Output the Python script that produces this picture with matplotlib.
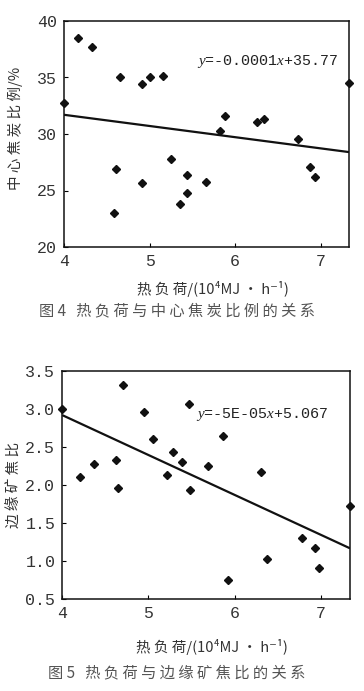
import matplotlib
matplotlib.use("Agg")
import matplotlib.pyplot as plt

plt.rcParams['font.family'] = ['Liberation Mono', 'DejaVu Sans Mono']
plt.rcParams['mathtext.fontset'] = 'custom'
plt.rcParams['mathtext.rm'] = 'Liberation Serif'
plt.rcParams['mathtext.it'] = 'Liberation Serif:italic'

CJK = ['Noto Sans CJK SC', 'DejaVu Sans']

# ---- Figure 4 data ----
heat_load_4 = [4.00, 4.16, 4.33, 4.66, 4.91, 5.01, 5.16, 7.33, 5.82, 5.88, 6.25, 6.34,
               6.73, 6.87, 6.93, 4.61, 5.25, 5.44, 4.91, 5.66, 5.44, 5.35, 4.58]
center_coke = [32.7, 38.5, 37.7, 35.0, 34.4, 35.0, 35.1, 34.5, 30.3, 31.6, 31.1, 31.35,
               29.6, 27.1, 26.2, 26.9, 27.8, 26.4, 25.7, 25.75, 24.8, 23.8, 23.0]
fit4_x = [4.0, 7.33]
fit4_y = [31.7, 28.4]
eq4 = r"$y$=-0.0001$x$+35.77"

# ---- Figure 5 data ----
heat_load_5 = [4.00, 4.20, 4.37, 4.70, 4.62, 4.65, 4.95, 5.05, 5.21, 5.29, 5.39, 5.47,
               5.48, 5.69, 5.87, 6.31, 7.34, 5.92, 6.38, 6.78, 6.93, 6.98]
edge_ratio = [3.00, 2.11, 2.28, 3.31, 2.33, 1.96, 2.96, 2.61, 2.13, 2.43, 2.30, 3.06,
              1.93, 2.25, 2.65, 2.17, 1.72, 0.76, 1.03, 1.30, 1.18, 0.91]
fit5_x = [4.0, 7.34]
fit5_y = [2.92, 1.17]
eq5 = r"$y$=-5E-05$x$+5.067"

xticks = [4, 5, 6, 7]
yticks4 = [20, 25, 30, 35, 40]
yticks5 = [0.5, 1.0, 1.5, 2.0, 2.5, 3.0, 3.5]

xlabel = "热 负 荷/(10⁴MJ • h⁻¹)"
ylabel4 = "中 心 焦 炭 比 例/%"
ylabel5 = "边 缘 矿 焦 比"
cap4 = "图 4   热 负 荷 与 中 心 焦 炭 比 例 的 关 系"
cap5 = "图 5   热 负 荷 与 边 缘 矿 焦 比 的 关 系"

W, H = 364, 691
fig = plt.figure(figsize=(W / 100, H / 100), dpi=100)

def fx(px):
    return px / W

def fy(py):
    return 1 - py / H

def style(ax, xlim, ylim, yt, fmt):
    ax.set_xlim(*xlim)
    ax.set_ylim(*ylim)
    ax.set_xticks(xticks)
    ax.set_yticks(yt)
    ax.set_yticklabels([fmt.format(v) for v in yt])
    ax.tick_params(direction='in', length=3, width=0.8, labelsize=12,
                   labelcolor='#333333', pad=5)
    for s in ax.spines.values():
        s.set_linewidth(1.1)
        s.set_color('#111111')

# Top axes
ax1 = fig.add_axes([fx(64), fy(247), fx(349) - fx(64), fy(21) - fy(247)])
ax1.plot(fit4_x, fit4_y, color='#111111', lw=1.6, solid_capstyle='butt')
ax1.plot(heat_load_4, center_coke, 'D', color='#111111', ms=4.5, ls='none', clip_on=False)
style(ax1, (4, 7.33), (20, 40), yticks4, "{:.0f}")
ax1.text(5.55, 36.4, eq4, fontsize=10.8, color='#222222', va='center', ha='left')

fig.text(fx(15), fy(128), ylabel4, rotation=90, ha='center', va='center',
         fontsize=10.5, family=CJK, color='#333333')
fig.text(fx(213), fy(289), xlabel, ha='center', va='center', fontsize=10.5,
         family=CJK, color='#333333')
fig.text(fx(177), fy(311), cap4, ha='center', va='center', fontsize=11,
         family=CJK, color='#555555')

# Bottom axes
ax2 = fig.add_axes([fx(62.3), fy(599.3), fx(350) - fx(62.3), fy(371) - fy(599.3)])
ax2.plot(fit5_x, fit5_y, color='#111111', lw=1.6, solid_capstyle='butt')
ax2.plot(heat_load_5, edge_ratio, 'D', color='#111111', ms=4.5, ls='none', clip_on=False)
style(ax2, (4, 7.34), (0.5, 3.5), yticks5, "{:.1f}")
ax2.text(5.55, 2.93, eq5, fontsize=10.8, color='#222222', va='center', ha='left')

fig.text(fx(15), fy(485), ylabel5, rotation=90, ha='center', va='center',
         fontsize=10.5, family=CJK, color='#333333')
fig.text(fx(212), fy(647), xlabel, ha='center', va='center', fontsize=10.5,
         family=CJK, color='#333333')
fig.text(fx(177), fy(673), cap5, ha='center', va='center', fontsize=11,
         family=CJK, color='#555555')

fig.savefig("out.png", dpi=100, facecolor='white')
